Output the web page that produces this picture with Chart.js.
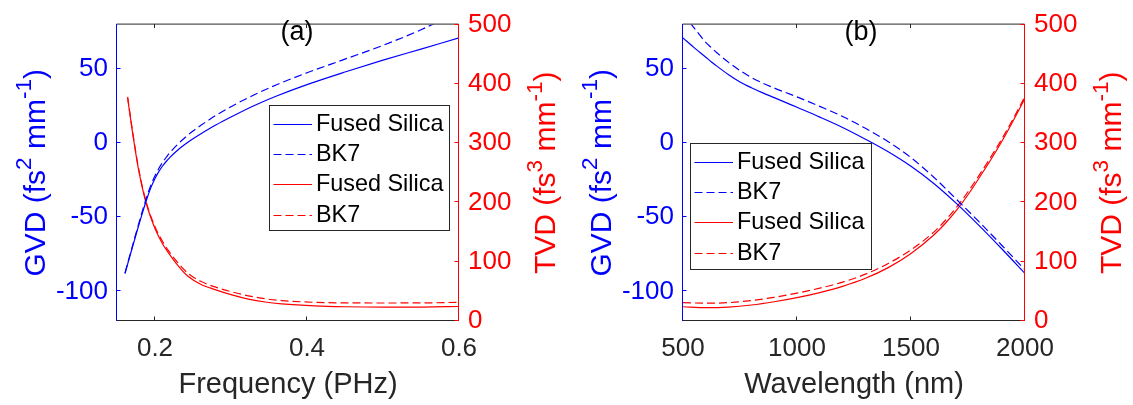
<!DOCTYPE html>
<html>
<head>
<meta charset="utf-8">
<title>GVD / TVD</title>
<script src="https://cdn.jsdelivr.net/npm/chart.js@4/dist/chart.umd.min.js"></script>
<style>
  html, body { margin: 0; padding: 0; background: #fff; }
  #wrap { position: relative; width: 1133px; height: 405px; }
  #wrap canvas { position: absolute; top: 0; }
</style>
</head>
<body>
<div id="wrap">
  <canvas id="panelA" width="566" height="405" style="left:0"></canvas>
  <canvas id="panelB" width="567" height="405" style="left:566px"></canvas>
</div>
<script>
// (a) dispersion against frequency (PHz)
const freqTicks = [0.2, 0.4, 0.6];
const freqGvd = [0.1605, 0.165, 0.17, 0.175, 0.18, 0.185, 0.19, 0.195, 0.2, 0.205, 0.21, 0.215, 0.22, 0.23, 0.24, 0.25, 0.26, 0.28, 0.3, 0.33, 0.36, 0.4, 0.45, 0.5, 0.55, 0.6];
const gvdFusedSilicaA = [-88, -79.8, -70.8, -61.8, -53, -44.5, -36.5, -29.5, -23.8, -19.2, -15.4, -12.2, -9.4, -4.6, -0.6, 3, 6.2, 12.2, 17.6, 25.2, 31.8, 39.5, 48, 56, 63.5, 71];
const gvdBk7A = [-87.6, -79.2, -70, -60.8, -51.8, -43.1, -34.9, -27.8, -22, -17.1, -12.9, -9.4, -6.2, -0.7, 4, 8.2, 11.9, 18.7, 24.6, 32.5, 39.4, 47.5, 56.7, 66, 76.5, 89];
const freqTvd = [0.164, 0.17, 0.178, 0.1877, 0.2, 0.21, 0.2175, 0.23, 0.2438, 0.26, 0.279, 0.3, 0.3228, 0.345, 0.3667, 0.41, 0.45, 0.5, 0.55, 0.6];
const tvdFusedSilicaA = [376, 322, 258, 202, 156, 130, 115.5, 94, 75, 62, 53, 44.5, 37, 32, 29, 25.5, 24, 23.3, 23.5, 24.5];
const tvdBk7A = [378, 324, 260, 204, 159, 134, 119, 98.5, 80, 67, 57.5, 49.5, 42.5, 37.5, 34.5, 31.5, 30.5, 30.4, 30.5, 31.5];

// (b) dispersion against wavelength (nm)
const wavelengthTicks = [500, 1000, 1500, 2000];
const wavelengthGvd = [500, 550, 600, 625, 650, 700, 750, 800, 850, 900, 1000, 1100, 1200, 1300, 1400, 1500, 1600, 1700, 1800, 1900, 2000];
const gvdFusedSilicaB = [71, 64.3, 58, 54.8, 51.8, 46.2, 41.3, 37.4, 33.9, 30.75, 24.2, 17.6, 10.6, 2.7, -5.8, -15.6, -27.2, -40.8, -55.8, -71.6, -88];
const gvdBk7B = [87.5, 77.5, 68, 64.3, 60.8, 54.5, 49, 44.3, 40.5, 37.2, 31.2, 24.8, 18, 10, 1, -9.8, -23, -38, -53.3, -69.2, -85.5];
const wavelengthTvd = [500, 600, 700, 800, 900, 1000, 1100, 1200, 1300, 1400, 1500, 1600, 1650, 1700, 1750, 1800, 1850, 1900, 1950, 2000];
const tvdFusedSilicaB = [24, 22.5, 23.5, 27, 32.5, 39.5, 48, 58.5, 72, 90, 114, 145, 164.5, 187, 213, 242, 272, 304, 339, 376];
const tvdBk7B = [31, 30, 31, 34.5, 40, 47, 55.5, 65.5, 79, 97, 120, 150, 169.5, 192, 218, 246.5, 276.5, 308, 342.5, 379];

const gvdTicks = [-100, -50, 0, 50];
const tvdTicks = [0, 100, 200, 300, 400, 500];

const BLUE = 'rgb(0,0,255)';
const RED = 'rgb(255,0,0)';
const AXIS = '#262626';
const FONT = "'Liberation Sans', Arial, Helvetica, sans-serif";
const DASH = [8, 4];

const gvdTitle = [{ t: 'GVD (fs' }, { t: '2', sup: true }, { t: ' mm' }, { t: '-1', sup: true }, { t: ')' }];
const tvdTitle = [{ t: 'TVD (fs' }, { t: '3', sup: true }, { t: ' mm' }, { t: '-1', sup: true }, { t: ')' }];

function series(label, xs, ys, axis, color, dashed) {
  return {
    label: label,
    data: xs.map((x, i) => ({ x: x, y: ys[i] })),
    yAxisID: axis,
    borderColor: color,
    borderWidth: 1.2,
    borderDash: dashed ? DASH : [],
    pointRadius: 0,
    cubicInterpolationMode: 'monotone',
    fill: false
  };
}

// text with raised parts, centred on (x, y) baseline, optionally rotated
function drawRich(ctx, parts, x, y, rot, size, color) {
  const sup = size * 0.75;
  ctx.save();
  ctx.translate(x, y);
  ctx.rotate(rot);
  ctx.fillStyle = color;
  ctx.textAlign = 'left';
  ctx.textBaseline = 'alphabetic';
  let w = 0;
  parts.forEach(p => {
    ctx.font = (p.sup ? sup : size) + 'px ' + FONT;
    p.w = ctx.measureText(p.t).width;
    w += p.w;
  });
  let cx = -w / 2;
  parts.forEach(p => {
    ctx.font = (p.sup ? sup : size) + 'px ' + FONT;
    ctx.fillText(p.t, cx, p.sup ? -size * 0.44 : 0);
    cx += p.w;
  });
  ctx.restore();
}

const frame = {
  id: 'frame',
  afterDraw(chart, args, o) {
    const { ctx, chartArea: a, scales } = chart;
    const l = a.left - 0.5, r = a.right - 0.5, t = a.top - 0.5, b = a.bottom - 0.5;
    const tl = 4;
    ctx.save();
    ctx.lineWidth = 1;
    ctx.setLineDash([]);

    // box
    ctx.strokeStyle = AXIS;
    ctx.beginPath();
    ctx.moveTo(l, t); ctx.lineTo(r, t);
    ctx.moveTo(l, b); ctx.lineTo(r, b);
    scales.x.ticks.forEach(tk => {
      const px = Math.round(scales.x.getPixelForValue(tk.value)) - 0.5;
      ctx.moveTo(px, b); ctx.lineTo(px, b - tl);
      ctx.moveTo(px, t); ctx.lineTo(px, t + tl);
    });
    ctx.stroke();

    ctx.strokeStyle = BLUE;
    ctx.beginPath();
    ctx.moveTo(l, t); ctx.lineTo(l, b + 0.5);
    scales.y.ticks.forEach(tk => {
      const py = Math.round(scales.y.getPixelForValue(tk.value)) - 0.5;
      ctx.moveTo(l, py); ctx.lineTo(l + tl, py);
    });
    ctx.stroke();

    ctx.strokeStyle = RED;
    ctx.beginPath();
    ctx.moveTo(r, t); ctx.lineTo(r, b + 0.5);
    scales.y2.ticks.forEach(tk => {
      const py = Math.round(scales.y2.getPixelForValue(tk.value)) - 0.5;
      ctx.moveTo(r, py); ctx.lineTo(r - tl, py);
    });
    ctx.stroke();

    // axis titles
    drawRich(ctx, [{ t: o.xTitle }], (a.left + a.right) / 2, 393, 0, 29, AXIS);
    drawRich(ctx, gvdTitle, a.left - 72.5, (a.top + a.bottom) / 2, -Math.PI / 2, 30, BLUE);
    drawRich(ctx, tvdTitle, a.right + 96, (a.top + a.bottom) / 2, -Math.PI / 2, 30, RED);

    // panel tag
    ctx.fillStyle = '#000';
    ctx.font = '27px ' + FONT;
    ctx.textAlign = 'center';
    ctx.textBaseline = 'middle';
    ctx.fillText(o.tag, o.tagX, 33);

    // legend
    const lg = o.legend;
    ctx.fillStyle = '#fff';
    ctx.fillRect(lg.x, lg.y, lg.w, lg.h);
    ctx.strokeStyle = AXIS;
    ctx.lineWidth = 1;
    ctx.strokeRect(lg.x + 0.5, lg.y + 0.5, lg.w, lg.h);
    ctx.font = '23.4px ' + FONT;
    ctx.textAlign = 'left';
    chart.data.datasets.forEach((ds, i) => {
      const cy = Math.round(lg.y + 19 + i * 30.2) + 0.5;
      ctx.strokeStyle = ds.borderColor;
      ctx.setLineDash(ds.borderDash);
      ctx.beginPath();
      ctx.moveTo(lg.x + 4.5, cy);
      ctx.lineTo(lg.x + 43, cy);
      ctx.stroke();
      ctx.fillStyle = '#000';
      ctx.fillText(ds.label, lg.x + 47, cy);
    });
    ctx.restore();
  }
};

function tickList(list) {
  return scale => { scale.ticks = list.map(v => ({ value: v })); };
}

function panel(id, p) {
  return new Chart(document.getElementById(id), {
    type: 'line',
    data: {
      datasets: [
        series('Fused Silica', p.gvdX, p.gvdFs, 'y', BLUE, false),
        series('BK7', p.gvdX, p.gvdBk7, 'y', BLUE, true),
        series('Fused Silica', p.tvdX, p.tvdFs, 'y2', RED, false),
        series('BK7', p.tvdX, p.tvdBk7, 'y2', RED, true)
      ]
    },
    options: {
      responsive: false,
      animation: false,
      events: [],
      layout: { padding: { top: 14, left: 0, right: 0, bottom: 0 } },
      plugins: {
        legend: { display: false },
        tooltip: { enabled: false },
        frame: { xTitle: p.xTitle, tag: p.tag, tagX: p.tagX, legend: p.legend }
      },
      scales: {
        x: {
          type: 'linear',
          min: p.xMin,
          max: p.xMax,
          afterBuildTicks: tickList(p.xTicks),
          afterFit: s => { s.height = 84; },
          grid: { display: false, drawTicks: false },
          border: { display: false },
          ticks: { color: AXIS, padding: 12, autoSkip: false, maxRotation: 0,
                   font: { family: FONT, size: 26 }, callback: v => String(v) }
        },
        y: {
          position: 'left',
          min: -120,
          max: 80,
          afterBuildTicks: tickList(gvdTicks),
          afterFit: s => { s.width = 117; },
          grid: { display: false, drawTicks: false },
          border: { display: false },
          ticks: { color: BLUE, padding: 9, autoSkip: false,
                   font: { family: FONT, size: 26 }, callback: v => String(v) }
        },
        y2: {
          position: 'right',
          min: 0,
          max: 500,
          afterBuildTicks: tickList(tvdTicks),
          afterFit: s => { s.width = p.rightWidth; },
          grid: { display: false, drawTicks: false },
          border: { display: false },
          ticks: { color: RED, padding: 9, autoSkip: false,
                   font: { family: FONT, size: 26 }, callback: v => String(v) }
        }
      }
    },
    plugins: [frame]
  });
}

panel('panelA', {
  gvdX: freqGvd, gvdFs: gvdFusedSilicaA, gvdBk7: gvdBk7A,
  tvdX: freqTvd, tvdFs: tvdFusedSilicaA, tvdBk7: tvdBk7A,
  xMin: 0.15, xMax: 0.6, xTicks: freqTicks, rightWidth: 107,
  xTitle: 'Frequency (PHz)', tag: '(a)', tagX: 297,
  legend: { x: 269, y: 105, w: 180, h: 125 }
});

panel('panelB', {
  gvdX: wavelengthGvd, gvdFs: gvdFusedSilicaB, gvdBk7: gvdBk7B,
  tvdX: wavelengthTvd, tvdFs: tvdFusedSilicaB, tvdBk7: tvdBk7B,
  xMin: 500, xMax: 2000, xTicks: wavelengthTicks, rightWidth: 108,
  xTitle: 'Wavelength (nm)', tag: '(b)', tagX: 295,
  legend: { x: 124, y: 143, w: 181, h: 126 }
});
</script>
</body>
</html>
